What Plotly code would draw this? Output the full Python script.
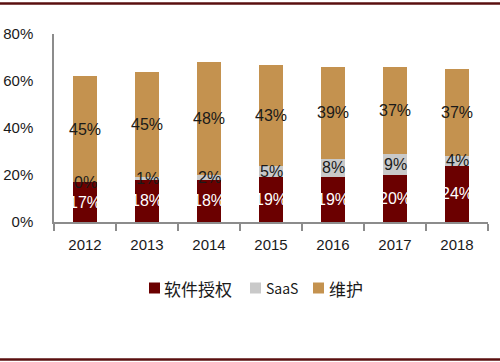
import plotly.graph_objects as go

years = ["2012", "2013", "2014", "2015", "2016", "2017", "2018"]
license_vals = [17, 18, 18, 19, 19, 20, 24]
saas_vals = [0, 1, 2, 5, 8, 9, 4]
maint_vals = [45, 45, 48, 43, 39, 37, 37]
series_names = ["软件授权", "SaaS", "维护"]
y_ticks = [0, 20, 40, 60, 80]
y_tick_text = ["0%", "20%", "40%", "60%", "80%"]

colors = ["#6B0000", "#C9C9C9", "#C4924F"]
label_colors = ["white", "#1a1a1a", "#1a1a1a"]

W, H = 500, 362
L, R, T, B = 54, 12, 34, 140

fig = go.Figure()
all_series = [license_vals, saas_vals, maint_vals]
for name, vals, c in zip(series_names, all_series, colors):
    fig.add_trace(go.Bar(x=years, y=vals, name=name, showlegend=False,
                         marker=dict(color=c, line=dict(width=0))))

annotations = []
base = [0] * len(years)
for vals, lc in zip(all_series, label_colors):
    for i, v in enumerate(vals):
        annotations.append(dict(x=i, y=base[i] + v / 2, text=f"{v}%", showarrow=False,
                                font=dict(color=lc, size=16, family="Liberation Sans, Arial"),
                                xref="x", yref="y"))
        base[i] += v

ph = H - T - B
pw = W - L - R
def py(ypix):
    return (H - B - ypix) / ph
def px(xpix):
    return (xpix - L) / pw

shapes = [
    dict(type="line", xref="paper", yref="paper", x0=px(0), x1=px(W), y0=py(3.5), y1=py(3.5),
         line=dict(color="#5A0F0F", width=2.5)),
    dict(type="line", xref="paper", yref="paper", x0=px(0), x1=px(W), y0=py(359.5), y1=py(359.5),
         line=dict(color="#5A0F0F", width=2.5)),
]

# manual legend (square + label), laid out in pixels
legend_sq_x = [149, 250, 313]
legend_txt_x = [162, 264, 327]
legend_font_sizes = [17, 14, 17]
for name, c, sx, tx, fs in zip(series_names, colors, legend_sq_x, legend_txt_x, legend_font_sizes):
    shapes.append(dict(type="rect", xref="paper", yref="paper", x0=px(sx), x1=px(sx + 11),
                       y0=py(293.5), y1=py(282.5), fillcolor=c, line=dict(width=0)))
    annotations.append(dict(x=px(tx), y=py(288), xref="paper", yref="paper", text=name,
                            showarrow=False, xanchor="left", yanchor="middle",
                            font=dict(size=fs, color="#1a1a1a",
                                      family="Noto Sans CJK SC, Liberation Sans")))

fig.update_layout(
    barmode="stack",
    width=W, height=H,
    margin=dict(l=L, r=R, t=T, b=B, pad=0, autoexpand=False),
    paper_bgcolor="white", plot_bgcolor="white",
    font=dict(family="Liberation Sans, Arial", size=15, color="#1a1a1a"),
    showlegend=False,
    xaxis=dict(type="category", range=[-0.5, 6.5], showgrid=False, showline=True, linecolor="#8C8C8C", linewidth=1.5,
               ticks="outside", ticklen=7, tickcolor="#8C8C8C", tickwidth=1.5, tickson="boundaries",
               tickfont=dict(size=15, color="#1a1a1a"), zeroline=False, automargin=False,
               ticklabelstandoff=8),
    yaxis=dict(range=[0, 80], tickvals=y_ticks, ticktext=y_tick_text, showgrid=False, showline=True,
               linecolor="#8C8C8C", linewidth=1.5, ticks="", zeroline=False, automargin=False,
               tickfont=dict(size=15, color="#1a1a1a"), ticklabelstandoff=16),
    annotations=annotations,
    shapes=shapes,
    bargap=0.61,
)

fig.write_html("out.html", config={"displayModeBar": False},
               post_script="document.body.style.margin='0';document.body.style.overflow='hidden';")
